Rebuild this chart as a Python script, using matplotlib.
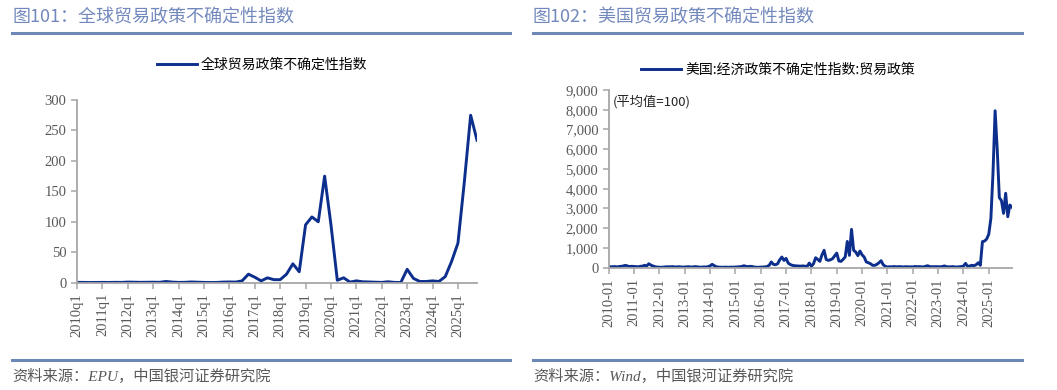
import numpy as np
import matplotlib
matplotlib.use("Agg")
from matplotlib import pyplot as plt
from matplotlib.lines import Line2D

plt.rcParams["font.family"] = ["Noto Sans CJK SC", "DejaVu Sans"]

# ---- data: global trade policy uncertainty, quarterly 2010q1-2025q4
global_tpu = [
    0.5, 0.5, 0.3, 0.4,
    0.5, 0.4, 0.6, 0.5,
    1.0, 0.8, 0.6, 0.7,
    0.8, 0.6, 2.0, 1.0,
    0.5, 0.6, 1.2, 0.8,
    0.5, 0.3, 0.4, 1.0,
    1.2, 1.0, 3.0, 14,
    9, 3, 8, 5,
    5, 14, 31, 18,
    95, 108, 100, 175,
    95, 4, 8, 1,
    3, 1.5, 1.2, 0.8,
    0.5, 1.5, 0.5, 0.3,
    22, 7, 2, 2,
    3, 2, 10, 35,
    65, 165, 275, 234,
]
quarter_labels = ["%dq1" % y for y in range(2010, 2026)]

# ---- data: US EPU trade policy category, monthly 2010-01 to 2025-12
us_tpu = [
    60, 45, 50, 55, 40, 60, 70, 90, 120, 80, 60, 70,            # 2010
    60, 50, 45, 70, 80, 120, 90, 200, 130, 85, 50, 30,          # 2011
    25, 20, 30, 45, 50, 40, 55, 45, 35, 50, 40, 30,             # 2012
    35, 40, 50, 30, 45, 55, 40, 30, 25, 40, 35, 50,             # 2013
    90, 170, 100, 50, 30, 25, 20, 30, 25, 20, 30, 25,           # 2014
    30, 40, 50, 60, 100, 70, 50, 70, 60, 30, 25, 20,            # 2015
    25, 30, 40, 60, 120, 290, 170, 150, 200, 400, 540, 370,     # 2016
    470, 235, 160, 120, 100, 90, 85, 80, 90, 75, 70, 235,       # 2017
    70, 200, 505, 420, 320, 650, 880, 420, 370, 400, 455, 600,  # 2018
    740, 340, 320, 420, 540, 1330, 625, 1940, 880, 795, 610, 845,  # 2019
    650, 540, 290, 250, 200, 120, 120, 170, 250, 355, 150, 70,  # 2020
    35, 50, 40, 60, 45, 50, 55, 40, 45, 50, 40, 45,             # 2021
    40, 60, 50, 55, 45, 40, 70, 100, 60, 45, 50, 55,            # 2022
    50, 45, 60, 90, 50, 40, 45, 55, 40, 35, 45, 60,             # 2023
    80, 220, 60, 90, 120, 100, 150, 250, 120, 1320, 1350, 1450, # 2024
    1700, 2500, 4800, 7950, 6000, 3550, 3400, 2750, 3770, 2580, 3175, 3060,  # 2025
]
month_labels = ["%d-01" % y for y in range(2010, 2026)]

W, H = 1057, 390
LINE_C = "#0c2e8c"
TITLE_C = "#7389bd"
RULE_C = "#6d88b6"
GREY = "#595959"
SPINE_C = "#a6a6a6"
NUM_FONT = ["Liberation Serif", "DejaVu Serif"]
SRC_FONT = ["Liberation Serif", "Noto Sans CJK SC"]


def fx(x):
    return x / W


def fy(y):
    return 1 - y / H


fig = plt.figure(figsize=(W / 100, H / 100), dpi=100)


def rule(x0, x1, y):
    fig.add_artist(Line2D([fx(x0), fx(x1)], [fy(y), fy(y)], transform=fig.transFigure,
                          color=RULE_C, lw=2.2))


def style_axes(ax):
    for s in ["top", "right"]:
        ax.spines[s].set_visible(False)
    for s in ["left", "bottom"]:
        ax.spines[s].set_color(SPINE_C)
        ax.spines[s].set_linewidth(1.3)
    ax.tick_params(axis="both", direction="out", length=4, width=1.1, color=SPINE_C,
                   labelcolor=GREY, labelsize=10.5)
    for lab in ax.get_xticklabels() + ax.get_yticklabels():
        lab.set_family(NUM_FONT)


# ---------------- left panel
fig.text(fx(12), fy(17), "图101：全球贸易政策不确定性指数", fontsize=13, color=TITLE_C,
         va="center", ha="left")
rule(12, 510, 33)
rule(12, 510, 360)
fig.text(fx(12), fy(376), "资料来源：EPU，中国银河证券研究院", fontsize=11, color=GREY,
         va="center", ha="left", style="italic", family=SRC_FONT)

ax1 = fig.add_axes([fx(77), fy(282.7), fx(477) - fx(77), fy(100) - fy(282.7)])
x1 = np.arange(len(global_tpu))
ax1.plot(x1, global_tpu, color=LINE_C, lw=2.1, label="全球贸易政策不确定性指数",
         solid_joinstyle="round")
ax1.set_xlim(0, len(global_tpu) - 1)
ax1.set_ylim(0, 300)
ax1.set_yticks(np.arange(0, 301, 50))
ax1.set_xticks(np.arange(0, len(global_tpu), 4))
ax1.set_xticklabels(quarter_labels, rotation=90)
style_axes(ax1)
ax1.legend(loc="center", bbox_to_anchor=(fx(262), fy(65)), bbox_transform=fig.transFigure,
           frameon=False, fontsize=10, handlelength=2.9, handletextpad=0.3)

# ---------------- right panel
fig.text(fx(533), fy(17), "图102：美国贸易政策不确定性指数", fontsize=13, color=TITLE_C,
         va="center", ha="left")
rule(533, 1022, 33)
rule(533, 1022, 360)
fig.text(fx(533), fy(376), "资料来源：Wind，中国银河证券研究院", fontsize=11, color=GREY,
         va="center", ha="left", style="italic", family=SRC_FONT)

ax2 = fig.add_axes([fx(608.7), fy(267.7), fx(1012) - fx(608.7), fy(90) - fy(267.7)])
x2 = np.arange(len(us_tpu))
ax2.plot(x2, us_tpu, color=LINE_C, lw=2.1, label="美国:经济政策不确定性指数:贸易政策",
         solid_joinstyle="round")
ax2.set_xlim(0, len(us_tpu) - 1)
ax2.set_ylim(0, 9000)
ax2.set_yticks(np.arange(0, 9001, 1000))
ax2.set_yticklabels(["{:,}".format(v) for v in range(0, 9001, 1000)])
ax2.set_xticks(np.arange(0, len(us_tpu), 12))
ax2.set_xticklabels(month_labels, rotation=90)
style_axes(ax2)
ax2.text(0.01, 0.935, "(平均值=100)", transform=ax2.transAxes, fontsize=9.5, color="#262626",
         va="center", ha="left")
ax2.legend(loc="center", bbox_to_anchor=(fx(778), fy(70)), bbox_transform=fig.transFigure,
           frameon=False, fontsize=10, handlelength=2.9, handletextpad=0.3)

fig.savefig("out.png", dpi=100)
